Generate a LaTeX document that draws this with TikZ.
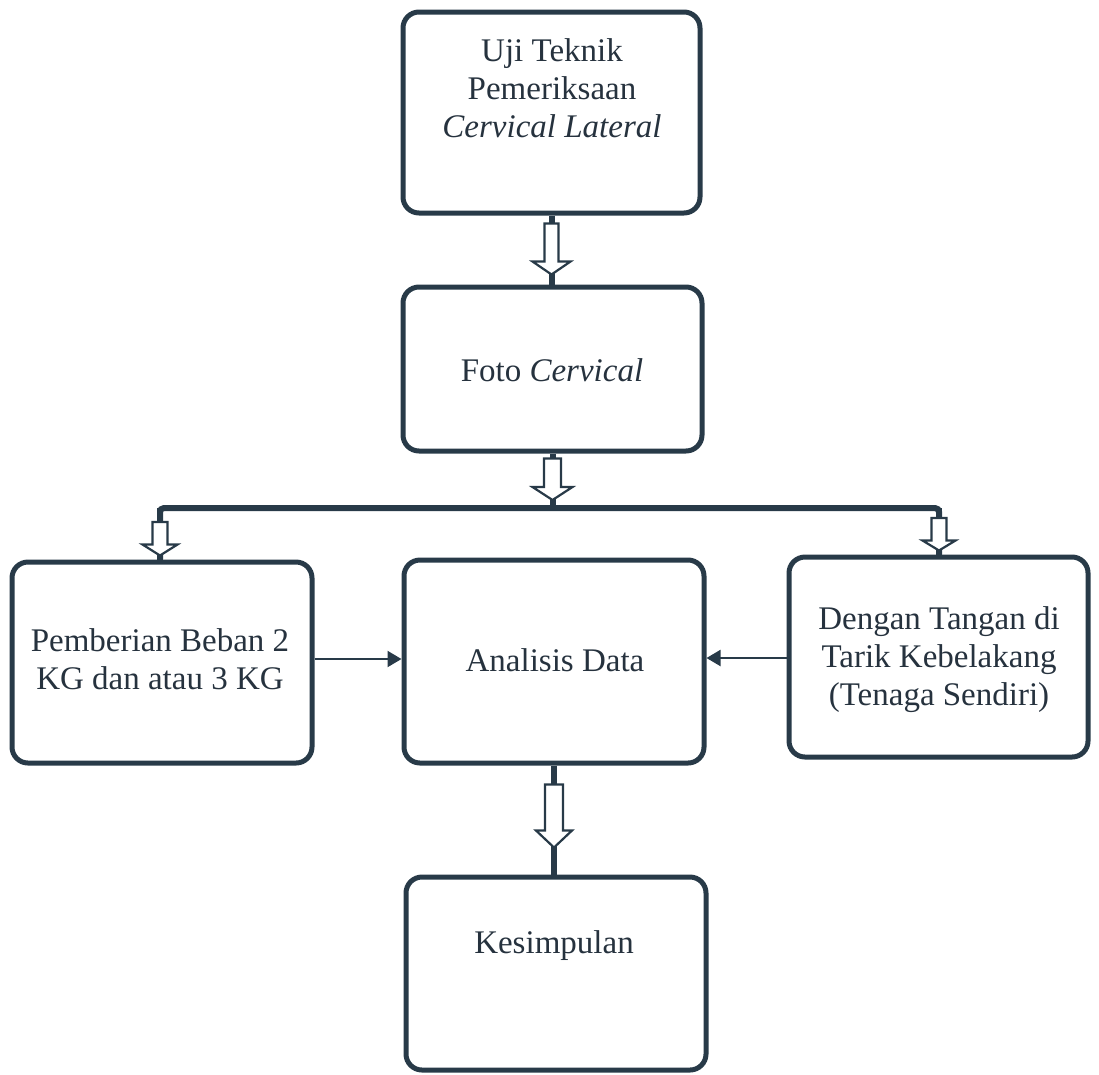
\documentclass[tikz,border=0pt]{standalone}
\usepackage{fontspec}
\setmainfont{Liberation Serif}
\usetikzlibrary{calc,arrows.meta}
\definecolor{ink}{RGB}{40,58,72}
\definecolor{txt}{RGB}{38,50,62}
\tikzset{
  box/.style={draw=ink,line width=5pt,rounded corners=16pt,inner sep=0pt},
  lbl/.style={text=txt,align=center,font=\fontsize{33}{38}\selectfont},
  stub/.style={draw=ink,line width=6pt},
  hollow/.style={draw=ink,line width=2.2pt,fill=white,line join=miter},
  side/.style={draw=ink,line width=2pt,-{Triangle[length=14pt,width=16pt]}},
}
\newcommand\hollowarrow[7]{% from, to, gap top, gap bottom, head length, shaft half width, head half width
  \draw[stub] (#1) -- (#2);
  \draw[hollow] ($(#1)+(-#6,#3)$) -- ($(#2)+(-#6,-#4-#5)$) -- ($(#2)+(-#7,-#4-#5)$)
     -- ($(#2)+(0,-#4)$) -- ($(#2)+(#7,-#4-#5)$) -- ($(#2)+(#6,-#4-#5)$)
     -- ($(#1)+(#6,#3)$) -- cycle;}
\begin{document}
\begin{tikzpicture}[x=1pt,y=-1pt]
\useasboundingbox (0,0) rectangle (1099,1074);
% boxes
\node[box,minimum width=297pt,minimum height=201pt] (b1) at (551.5,112.5) {};
\node[box,minimum width=299pt,minimum height=164pt] (b2) at (552.5,369) {};
\node[box,minimum width=300pt,minimum height=201pt] (bl) at (162,662.5) {};
\node[box,minimum width=300pt,minimum height=203pt] (bc) at (554,661.5) {};
\node[box,minimum width=299pt,minimum height=200pt] (br) at (938.5,657) {};
\node[box,minimum width=300pt,minimum height=193pt] (bk) at (556,973.5) {};
% texts
\node[lbl] (t1) at (552,88) {Uji Teknik\\Pemeriksaan\\\textit{Cervical Lateral}};
\node[lbl] (t2) at (552,370) {Foto \textit{Cervical}};
\node[lbl] (tl) at (160,659) {Pemberian Beban 2\\KG dan atau 3 KG};
\node[lbl] (tc) at (555,660) {Analisis Data};
\node[lbl] (tr) at (939,660) {Dengan Tangan di\\Tarik Kebelakang\\(Tenaga Sendiri)};
\node[lbl] (tk) at (554,946) {Kesimpulan};
% branch bar
\coordinate (barM) at (552,508);
\coordinate (barL) at (160,508);
\coordinate (barR) at (939,508);
\draw[stub,rounded corners=4pt] (bl.north -| barL) -- (barL) -- (barR) -- (br.north -| barR);
% hollow arrows
\hollowarrow{b1.south}{b1.south |- b2.north}{8}{10}{13}{7}{19}
\hollowarrow{b2.south}{b2.south |- barM}{5}{8}{13}{8.5}{20}
\hollowarrow{barL}{bl.north -| barL}{14}{4}{11}{7.5}{17.5}
\hollowarrow{barR}{br.north -| barR}{10}{4}{10}{7.5}{16.5}
\hollowarrow{bc.south}{bc.south |- bk.north}{19}{27}{17}{9}{18}
% side arrows
\draw[side] (bl.east |- tl) -- (bc.west |- tl);
\draw[side] (br.west |- 0,658) -- (bc.east |- 0,658);
\end{tikzpicture}
\end{document}
